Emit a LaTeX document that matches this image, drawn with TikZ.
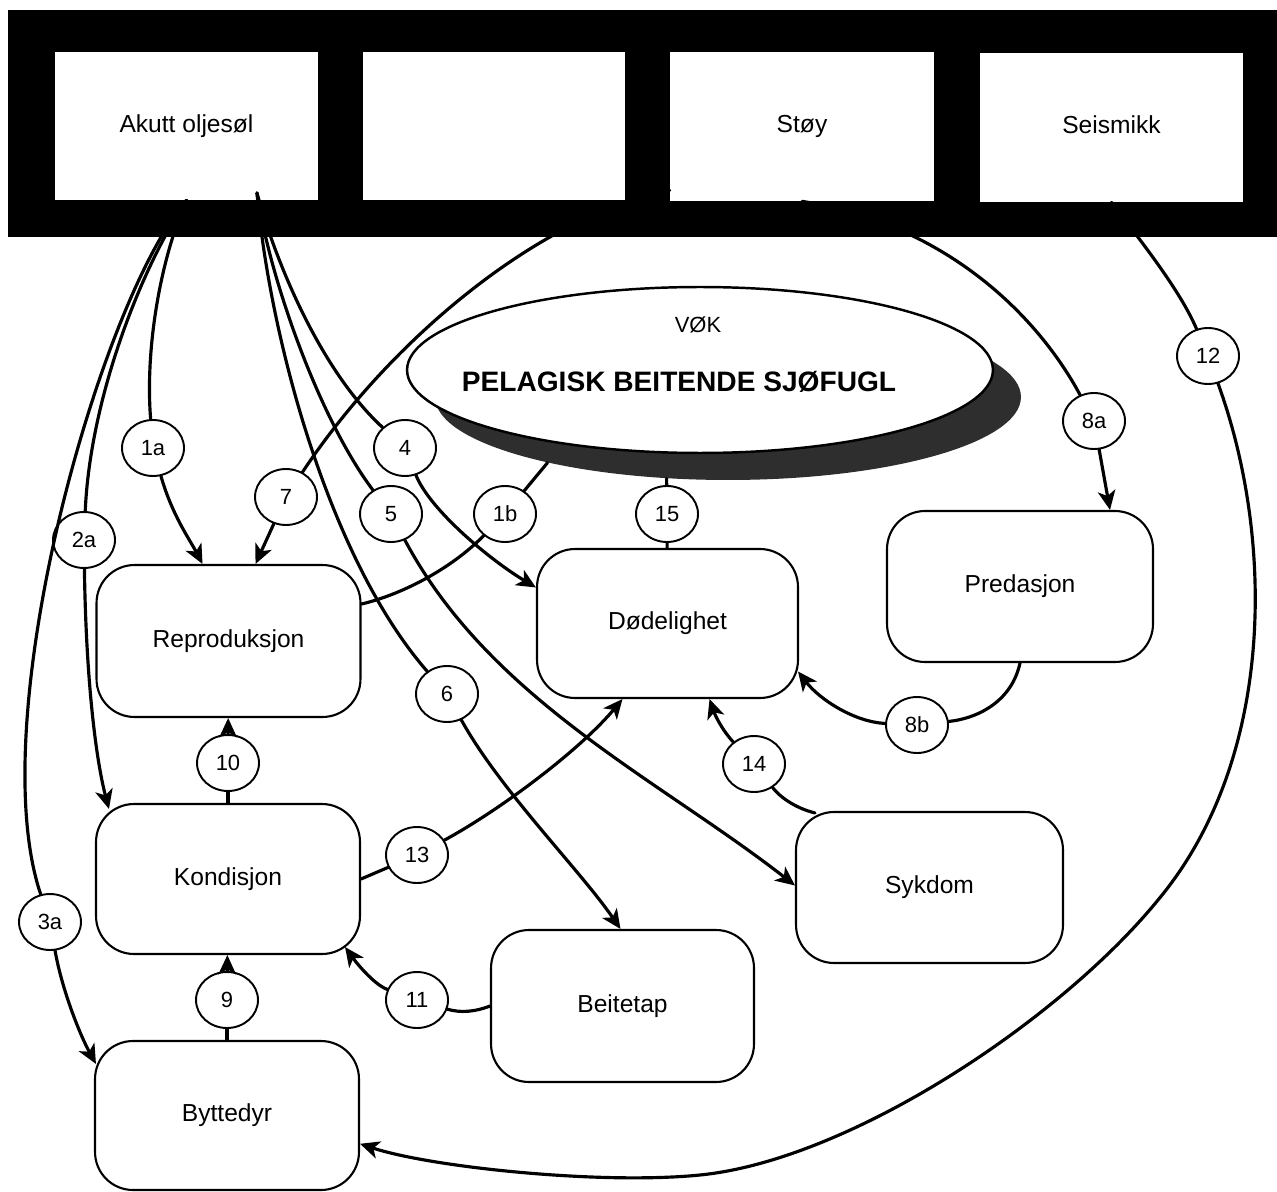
\documentclass[tikz,border=0pt]{standalone}
\usepackage{fontspec}
\setmainfont{Liberation Sans}
\usetikzlibrary{shapes.geometric,arrows.meta}
\begin{document}
\begin{tikzpicture}[x=0.02cm,y=-0.02cm,
  conn/.style={line width=1.8pt, line cap=round},
  arr/.style={-{Stealth[length=11pt,width=10pt,inset=3pt]}},
  box/.style={draw, line width=1.2pt, rounded corners=0.76cm, fill=white, inner sep=0pt, text height=10pt, text depth=3pt, font=\fontsize{14}{16}\selectfont},
  topbox/.style={fill=white, inner sep=0pt, text height=10pt, text depth=3pt, font=\fontsize{14}{16}\selectfont},
  num/.style={draw, ellipse, line width=1.1pt, fill=white, minimum width=1.24cm, minimum height=1.12cm, inner sep=0pt, font=\fontsize{12.5}{14}\selectfont},
]
\useasboundingbox (0,0) rectangle (1277,1192);
\fill[white] (0,0) rectangle (1277,1192);
% top bar
\fill[black] (8,10) rectangle (1277,237);
\node[topbox, minimum width=5.26cm, minimum height=2.96cm] (t1) at (186.5,126) {Akutt oljesøl};
\node[topbox, minimum width=5.24cm, minimum height=2.96cm] (t2) at (494,126) {};
\node[topbox, minimum width=5.28cm, minimum height=2.98cm] (t3) at (802,126.5) {Støy};
\node[topbox, minimum width=5.26cm, minimum height=2.98cm] (t4) at (1111.5,127.5) {Seismikk};

% central ellipse with shadow
\node[ellipse, fill=black!82, minimum width=11.72cm, minimum height=3.32cm, inner sep=0pt] (shad) at (728,397) {};
\node[ellipse, draw, line width=1.4pt, fill=white, minimum width=11.72cm, minimum height=3.32cm, inner sep=0pt] (ell) at (700,370) {};
\node[font=\fontsize{12.5}{14}\selectfont] (vok) at (698,325) {VØK};
\node[font=\bfseries\fontsize{16}{18}\selectfont] (pel) at (679,382) {PELAGISK BEITENDE SJØFUGL};

% boxes
\node[box, minimum width=5.28cm, minimum height=3.04cm] (rep) at (228.5,641) {Reproduksjon};
\node[box, minimum width=5.22cm, minimum height=2.98cm] (dod) at (667.5,623.5) {Dødelighet};
\node[box, minimum width=5.32cm, minimum height=3.02cm] (pred) at (1020,586.5) {Predasjon};
\node[box, minimum width=5.28cm, minimum height=3.0cm] (kond) at (228,879) {Kondisjon};
\node[box, minimum width=5.28cm, minimum height=2.98cm] (bytt) at (227,1115.5) {Byttedyr};
\node[box, minimum width=5.26cm, minimum height=3.04cm] (beit) at (622.5,1006) {Beitetap};
\node[box, minimum width=5.34cm, minimum height=3.02cm] (syk) at (929.5,887.5) {Sykdom};

% numbered circles
\node[num] (c1a) at (153,448) {1a};
\node[num] (c2a) at (84,540) {2a};
\node[num] (c3a) at (50,922) {3a};
\node[num] (c4) at (405,448) {4};
\node[num] (c5) at (391,514) {5};
\node[num] (c6) at (447,694) {6};
\node[num] (c7) at (286,497) {7};
\node[num] (c1b) at (505,514) {1b};
\node[num] (c15) at (667,514) {15};
\node[num] (c8a) at (1094,421) {8a};
\node[num] (c8b) at (917,725) {8b};
\node[num] (c10) at (228,763) {10};
\node[num] (c9) at (227,1000) {9};
\node[num] (c11) at (417,1000) {11};
\node[num] (c13) at (417,855) {13};
\node[num] (c14) at (754,764) {14};
\node[num] (c12) at (1208,356) {12};

\coordinate (oR) at (257,193);

% 1a
\draw[conn] (t1.south) .. controls (160,260) and (145,350) .. (c1a);
\draw[conn,arr] (c1a) .. controls (172,515) and (190,540) .. ([shift={(-26,0)}]rep.north);
% 2a
\draw[conn] (t1.south) .. controls (140,270) and (90,400) .. (c2a);
\draw[conn,arr] (c2a) .. controls (86,680) and (96,760) .. ([shift={(14,6)}]kond.north west);
% 3a
\draw[conn] (t1.south) .. controls (100,300) and (-18,720) .. (c3a);
\draw[conn,arr] (c3a) .. controls (62,990) and (80,1035) .. ([shift={(2,24)}]bytt.north west);
% 4
\draw[conn] (oR) .. controls (275,260) and (320,370) .. (c4);
\draw[conn,arr] (c4) .. controls (430,510) and (490,560) .. ([shift={(0,-36)}]dod.west);
% 5
\draw[conn] (oR) .. controls (270,280) and (320,420) .. (c5);
\draw[conn,arr] (c5) .. controls (490,700) and (660,780) .. ([shift={(0,-2)}]syk.west);
% 6
\draw[conn] (oR) .. controls (270,340) and (330,560) .. (c6);
\draw[conn,arr] (c6) .. controls (500,790) and (580,870) .. ([shift={(-2,0)}]beit.north);
% 7
\draw[conn] ([shift={(0,-11)}]t3.south west) .. controls (540,215) and (390,340) .. (c7);
\draw[conn,arr] (c7) -- ([shift={(27,0)}]rep.north);
% 8a
\draw[conn] (t3.south) .. controls (950,225) and (1040,320) .. (c8a);
\draw[conn,arr] (c8a) -- ([shift={(90,0)}]pred.north);
% 8b
\draw[conn] (pred.south) .. controls (1012,700) and (980,718) .. (c8b);
\draw[conn,arr] (c8b) .. controls (855,722) and (820,700) .. ([shift={(-1,48)}]dod.east);
% 12
\draw[conn] (t4.south) .. controls (1140,240) and (1180,290) .. (c12);
\draw[conn,arr] (c12) .. controls (1275,540) and (1275,760) .. (1158,900)
   .. controls (1060,1020) and (850,1160) .. (700,1175)
   .. controls (600,1185) and (430,1167) .. (bytt.-12);
% 1b
\draw[conn] ([shift={(0,-37)}]rep.east) .. controls (400,595) and (450,570) .. (c1b);
\draw[conn] (c1b) -- (shad.200);
% 15
\draw[conn] (c15) -- (shad.233);
\draw[conn] (c15) -- (dod);
% 10
\draw[conn] (kond) -- (c10);
\draw[conn,arr] (c10) -- (rep);
% 9
\draw[conn] (bytt) -- (c9);
\draw[conn,arr] (c9) -- (kond);
% 11
\draw[conn] (beit.west) .. controls (475,1012) and (460,1013) .. (c11);
\draw[conn,arr] (c11) .. controls (375,985) and (358,965) .. ([shift={(-16,-8)}]kond.south east);
% 13
\draw[conn] (kond.east) -- (c13);
\draw[conn,arr] (c13) .. controls (500,810) and (580,750) .. ([shift={(-45,0)}]dod.south);
% 14
\draw[conn] ([shift={(20,2)}]syk.north west) .. controls (795,808) and (780,797) .. (c14);
\draw[conn,arr] (c14) .. controls (722,730) and (715,715) .. ([shift={(42,0)}]dod.south);
\end{tikzpicture}
\end{document}
